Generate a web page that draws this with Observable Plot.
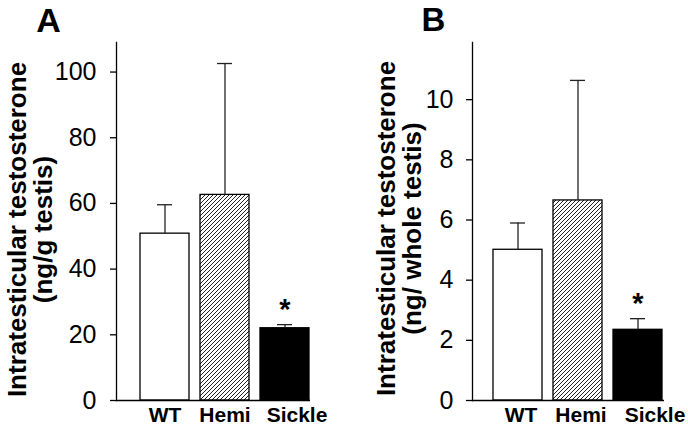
<!DOCTYPE html>
<html><head><meta charset="utf-8">
<script src="https://cdn.jsdelivr.net/npm/d3@7"></script>
<script src="https://cdn.jsdelivr.net/npm/@observablehq/plot@0.6"></script>
<style>
html,body{margin:0;padding:0;background:#fff;}
#wrap{display:flex;width:688px;height:427px;overflow:hidden;}
#wrap svg{flex:none;}
</style></head><body><div id="wrap"></div>
<script>
const groups = ["WT", "Hemi", "Sickle"];
const meanA = [50.8, 62.6, 22.0];
const semA = [8.8, 40.0, 1.1];
const meanB = [5.01, 6.65, 2.35];
const semB = [0.89, 3.99, 0.37];
const signif = ["", "", "*"];
const ticksA = [0, 20, 40, 60, 80, 100];
const ticksB = [0, 2, 4, 6, 8, 10];
const titleA = "Intratesticular testosterone\n(ng/g testis)";
const titleB = "Intratesticular testosterone\n(ng/ whole testis)";

const FONT = "'Liberation Sans', Arial, Helvetica, sans-serif";

function panel(o) {
  const data = groups.map((g, i) => ({group: g, mean: o.mean[i], hi: o.mean[i] + o.sem[i], sig: signif[i]}));
  const svg = Plot.plot({
    width: 344, height: 427,
    marginLeft: o.ml, marginRight: o.mr, marginTop: 42, marginBottom: 27,
    style: {fontFamily: FONT, background: "transparent", overflow: "visible", color: "black"},
    x: {domain: groups, padding: o.padding, align: o.align, label: null},
    y: {domain: [0, o.yMax], label: null},
    color: {domain: groups, range: ["white", `url(#${o.pid})`, "black"]},
    marks: [
      Plot.barY(data, {x: "group", y: "mean", fill: "group", stroke: "black", strokeWidth: 1.3}),
      Plot.ruleX(data, {x: "group", y1: "mean", y2: "hi", stroke: "#222", strokeWidth: 1.3}),
      Plot.tickY(data, {x: "group", y: "hi", stroke: "#222", strokeWidth: 1.3, inset: o.capInset}),
      Plot.text(data, {x: "group", y: "hi", text: "sig", dy: -15, fontSize: 29, fontWeight: "bold"}),
      Plot.frame({anchor: "left", strokeWidth: 1.3}),
      Plot.ruleY([0], {strokeWidth: 1.3}),
      Plot.axisY({ticks: o.ticks, tickSize: 6, tickPadding: o.tp, fontSize: 25, label: null, strokeWidth: 1.3}),
      Plot.axisX(groups.slice(0, 2), {tickSize: 0, tickPadding: 7, fontSize: 21, fontWeight: "bold", letterSpacing: "0.04em", label: null, dx: o.labDx}),
      Plot.axisX(groups.slice(2), {tickSize: 0, tickPadding: 7, fontSize: 21, fontWeight: "bold", letterSpacing: "0.04em", label: null, dx: o.sickleDx}),
      Plot.text([o.title], {text: d => d, frameAnchor: "left", textAnchor: "middle", lineAnchor: "middle",
        rotate: -90, lineHeight: 1, fontSize: 26, fontWeight: "bold", dx: o.titleDx, dy: o.titleDy}),
      Plot.text([o.letter], {text: d => d, frameAnchor: "top-left", textAnchor: "middle", lineAnchor: "middle",
        fontSize: o.letterSize, fontWeight: "bold", dx: o.letterDx, dy: o.letterDy})
    ]
  });
  const defs = d3.select(svg).insert("defs", ":first-child");
  const p = defs.append("pattern").attr("id", o.pid).attr("patternUnits", "userSpaceOnUse")
    .attr("width", 4).attr("height", 4);
  p.append("rect").attr("width", 4).attr("height", 4).attr("fill", "white");
  p.append("path").attr("d", "M-1,1L1,-1M0,4L4,0M3,5L5,3").attr("stroke", "#222").attr("stroke-width", 1);
  return svg;
}

const wrap = document.getElementById("wrap");
wrap.appendChild(panel({
  letter: "A", mean: meanA, sem: semA, ticks: ticksA, yMax: 109, title: titleA, pid: "hatchA",
  ml: 116, mr: 34, padding: 0.19, align: 0.95, capInset: 17, tp: 14,
  labDx: 0, sickleDx: 12, titleDx: -86, titleDy: 8, letterSize: 34, letterDx: -68, letterDy: -21.5
}));
wrap.appendChild(panel({
  letter: "B", mean: meanB, sem: semB, ticks: ticksB, yMax: 11.9, title: titleB, pid: "hatchB",
  ml: 128, mr: 24, padding: 0.186, align: 0.9, capInset: 17, tp: 13,
  labDx: 3, sickleDx: 17, titleDx: -73, titleDy: 7, letterSize: 33, letterDx: -39, letterDy: -22
}));
</script></body></html>
